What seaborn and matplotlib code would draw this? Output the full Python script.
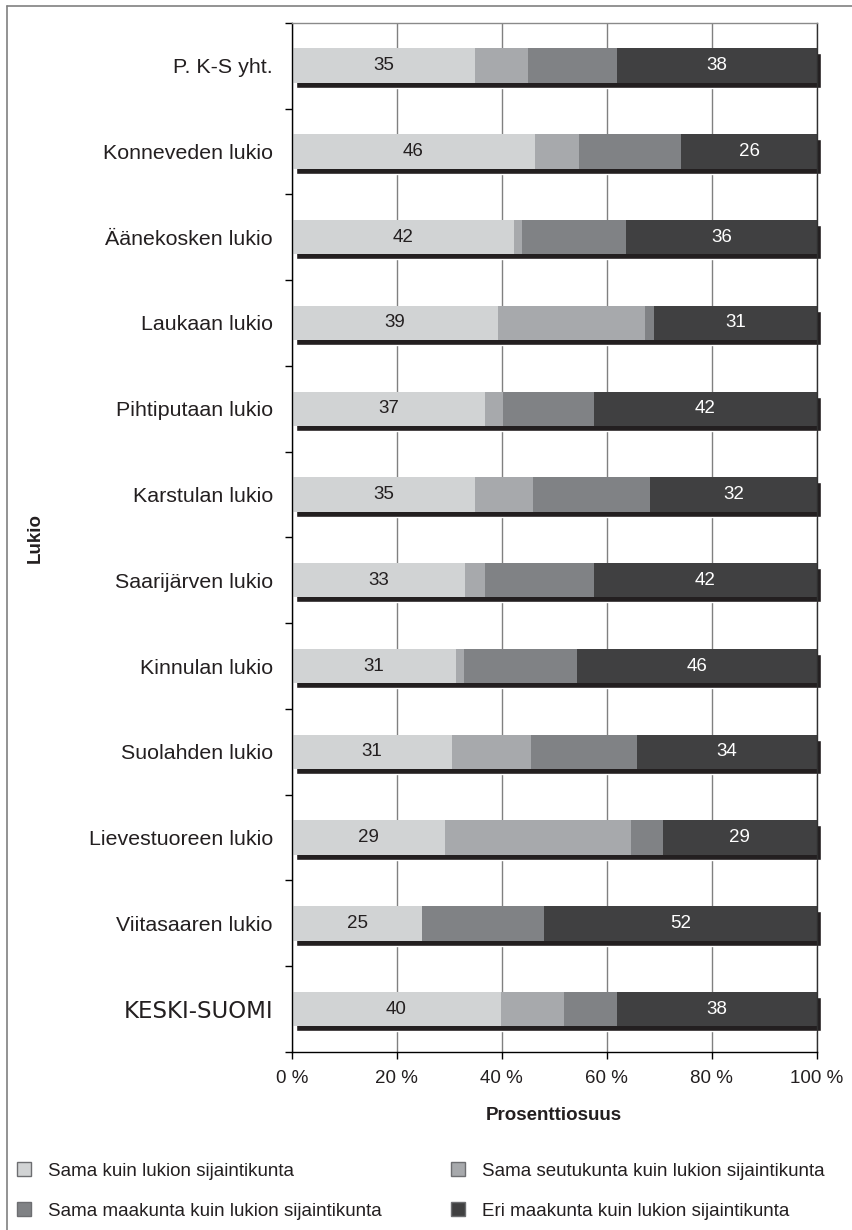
import numpy as np
import matplotlib
matplotlib.use("Agg")
import matplotlib.pyplot as plt
import seaborn as sns
from matplotlib.patches import Patch
from matplotlib.lines import Line2D
from matplotlib.ticker import FixedLocator
from matplotlib.transforms import ScaledTranslation

# -----------------------------------------------------------------------------
# data (percent shares per upper secondary school)
schools = ["P. K-S yht.", "Konneveden lukio", "Äänekosken lukio", "Laukaan lukio",
           "Pihtiputaan lukio", "Karstulan lukio", "Saarijärven lukio", "Kinnulan lukio",
           "Suolahden lukio", "Lievestuoreen lukio", "Viitasaaren lukio", "KESKI-SUOMI"]
sama_kunta = [34.9, 46.4, 42.3, 39.3, 36.8, 34.9, 33.0, 31.3, 30.6, 29.2, 24.9, 39.9]
sama_seutu = [10.1, 8.3, 1.6, 28.0, 3.4, 11.0, 3.8, 1.5, 15.0, 35.5, 0.0, 12.0]
sama_maakunta = [17.0, 19.5, 19.8, 1.7, 17.4, 22.4, 20.8, 21.6, 20.2, 6.0, 23.2, 10.1]
eri_maakunta = [38.0, 25.8, 36.3, 31.0, 42.4, 31.7, 42.4, 45.6, 34.2, 29.3, 51.9, 38.0]

series_names = ["Sama kuin lukion sijaintikunta",
                "Sama seutukunta kuin lukion sijaintikunta",
                "Sama maakunta kuin lukion sijaintikunta",
                "Eri maakunta kuin lukion sijaintikunta"]
colors = ["#D1D3D4", "#A7A9AC", "#808285", "#404041"]
xticks = [0, 20, 40, 60, 80, 100]

# -----------------------------------------------------------------------------
sns.set_style("white")
plt.rcParams["font.family"] = ["Liberation Sans", "DejaVu Sans"]

fig = plt.figure(figsize=(8.53, 12.30), dpi=100)
ax = fig.add_axes([0.342, 0.1447, 0.6155, 0.8368])

series = np.array([sama_kunta, sama_seutu, sama_maakunta, eri_maakunta])
cum = np.cumsum(series, axis=0)
bw = 0.40

# shadow bars (the 3D look of the original), shifted a few pixels right/down
sns.barplot(x=cum[-1], y=schools, color="#231F20", width=bw, saturation=1, ax=ax)
shift = ScaledTranslation(0.04, -0.05, fig.dpi_scale_trans)
for p in ax.patches:
    p.set_transform(ax.transData + shift)
    p.set_clip_on(False)

# stacked bars drawn as overlapping cumulative bars, largest first
for k in range(3, -1, -1):
    sns.barplot(x=cum[k], y=schools, color=colors[k], width=bw, saturation=1,
                linewidth=0, ax=ax)

# value labels on the first and last segments
for i in range(len(schools)):
    ax.text(sama_kunta[i] / 2, i, f"{round(sama_kunta[i]):d}", ha="center", va="center",
            fontsize=13.5, color="#231F20")
    ax.text(cum[2][i] + eri_maakunta[i] / 2, i, f"{round(eri_maakunta[i]):d}",
            ha="center", va="center", fontsize=13.5, color="white")

# axes styling
ax.set_xlim(0, 100)
ax.set_xticks(xticks)
ax.set_xticklabels([f"{t} %" for t in xticks], fontsize=13.5, color="#231F20")
ax.tick_params(axis="x", length=5, width=1, color="black", pad=8, direction="out", bottom=True)
ax.tick_params(axis="y", which="major", length=0, pad=13.5, labelsize=15.4, labelcolor="#231F20")
ax.yaxis.set_minor_locator(FixedLocator(np.arange(-0.5, len(schools), 1.0)))
ax.tick_params(axis="y", which="minor", length=5, width=1, color="black", direction="out", left=True)
ax.get_yticklabels()[-1].set_fontfamily("DejaVu Sans")
ax.get_yticklabels()[-1].set_fontsize(16.5)

ax.xaxis.grid(True, color="#808080", lw=1)
ax.yaxis.grid(False)
ax.set_axisbelow(True)
for s, c in [("left", "black"), ("bottom", "black"), ("top", "#8a8a8a"), ("right", "#303030")]:
    ax.spines[s].set_visible(True)
    ax.spines[s].set_color(c)
    ax.spines[s].set_linewidth(1)

ax.set_xlabel("Prosenttiosuus", fontsize=13.5, fontweight="bold", labelpad=14, color="#231F20")
ax.set_ylabel("")
fig.text(35 / 853, 0.563, "Lukio", rotation=90, fontsize=13.5, fontweight="bold",
         ha="center", va="center", color="#231F20")

# legend (2 x 2)
order = [0, 2, 1, 3]
handles = [Patch(facecolor=colors[k], edgecolor="#6d6e71", lw=1) for k in order]
labels = [series_names[k] for k in order]
fig.legend(handles, labels, loc="upper left", bbox_to_anchor=(0.02, 0.055), ncol=2,
           frameon=False, fontsize=13.5, handlelength=0.75, handleheight=0.75,
           handletextpad=0.9, columnspacing=3.7, labelspacing=1.2, borderpad=0,
           borderaxespad=0, labelcolor="#231F20")

# outer frame (top and left only)
fig.add_artist(Line2D([7 / 853, 1], [1 - 6 / 1230, 1 - 6 / 1230], color="#808080", lw=1.2))
fig.add_artist(Line2D([7 / 853, 7 / 853], [0, 1 - 6 / 1230], color="#808080", lw=1.2))

fig.savefig("out.png", dpi=100)
